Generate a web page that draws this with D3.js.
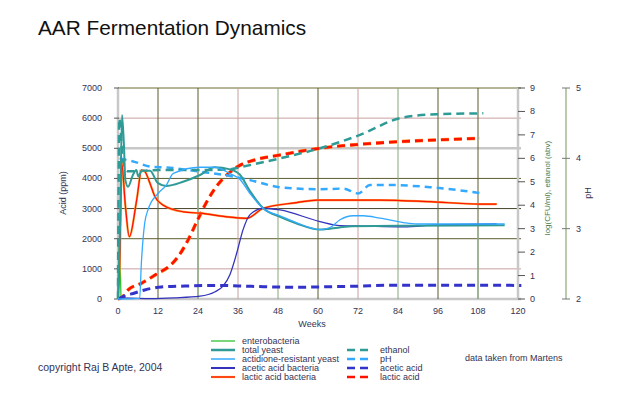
<!DOCTYPE html>
<html>
<head>
<meta charset="utf-8">
<script src="https://cdn.jsdelivr.net/npm/d3@7"></script>
<style>
  body { margin: 0; background: #fff; }
  svg { display: block; font-family: "Liberation Sans", Arial, sans-serif; }
  .tick-label { font-size: 9px; fill: #333355; }
</style>
</head>
<body>
<svg id="chart" width="630" height="395"></svg>
<script>
// weeks / value pairs
// solid lines: log(CFU/ml), right axis 0-9
var enterobacteria = [[0, 0], [0.4, 2.5], [0.9, 0]];
var total_yeast = [[0, 0], [0.6, 3], [1.2, 7.85], [1.8, 6.5], [2.2, 5.08], [3, 4.79], [4.5, 5.3], [5.5, 5.5],
    [6.1, 5.22], [7.1, 5.47], [9.6, 5.47], [12, 4.94], [14.5, 4.82], [19.5, 5.0], [24.6, 5.29], [29, 5.62],
    [33.6, 5.53], [36.6, 5.3], [39.6, 4.6], [43.6, 3.87], [48.6, 3.5], [53.6, 3.22], [60.6, 2.96],
    [63.6, 3.0], [70, 3.1], [85, 3.12], [116, 3.15]];
var actidione_yeast = [[0, 0], [6.5, 0.03], [7, 1.5], [8, 3.23], [9, 3.8], [12, 4.5], [14.5, 4.86], [16.6, 5.36],
    [24.6, 5.62], [29, 5.62], [33.6, 5.35], [36.6, 5.1], [39.6, 4.5], [43.6, 3.85], [48.6, 3.55],
    [53.6, 3.25], [60.6, 2.96], [63.6, 3.05], [66.6, 3.38], [70.5, 3.55], [73.6, 3.55], [78.6, 3.45],
    [85.6, 3.26], [89.6, 3.2], [116, 3.2]];
var acetic_bacteria = [[0, 0.05], [10, 0.02], [17, 0.05], [24.6, 0.12], [29, 0.3], [31.5, 0.55], [33.6, 1.05],
    [35.6, 1.95], [37.5, 2.95], [39.6, 3.6], [43.6, 3.87], [48.6, 3.8], [60.6, 3.3], [66.6, 3.13],
    [73.6, 3.11], [85.6, 3.08], [95.6, 3.16], [113.6, 3.2]];
var lactic_bacteria = [[0, 0], [0.6, 2], [1.1, 5.79], [2.2, 4.0], [3.4, 2.66], [5.6, 4.22], [7.1, 5.5],
    [8.1, 5.43], [9.6, 4.93], [11.1, 4.36], [13.6, 4.0], [19.6, 3.72], [24.6, 3.66], [33.6, 3.49],
    [38.6, 3.44], [43.6, 3.87], [53.6, 4.11], [59.6, 4.22], [78.6, 4.22], [93.6, 4.15], [108.6, 4.05],
    [113.6, 4.05]];
// dashed lines
var ethanol = [[0, 0], [0.4, 7.7], [1.6, 5.7], [3, 5.45], [14, 5.5], [24, 5.5], [33.6, 5.53], [36.6, 5.62],
    [48.6, 6.0], [60.6, 6.43], [72.6, 7.0], [84.6, 7.71], [95.6, 7.88], [109.6, 7.92]]; // % abv, right axis
var ph = [[0.5, 4.0], [5, 3.95], [10, 3.88], [14.6, 3.87], [24.6, 3.81], [33.6, 3.75], [39.6, 3.69],
    [48.6, 3.59], [60.6, 3.56], [67.6, 3.57], [72.1, 3.5], [75.6, 3.62], [81.6, 3.62], [93.6, 3.59],
    [109.6, 3.5]];
var acetic_acid = [[0, 0], [2, 100], [5, 200], [8, 300], [13, 400], [20, 430], [30, 450], [40, 420],
    [53.6, 390], [60, 400], [70, 420], [84.6, 460], [100, 460], [121, 450]]; // ppm
var lactic_acid = [[0, 0], [1.5, 80], [3, 299], [7, 520], [12, 853], [15, 1050], [18, 1400], [21, 1950],
    [24, 2650], [27, 3300], [30, 3800], [33, 4150], [36, 4400], [41, 4612], [48.6, 4778], [60.6, 5000],
    [72.6, 5133], [84.6, 5220], [95.6, 5276], [108.6, 5332]]; // ppm

var week_ticks = d3.range(0, 121, 12);
var acid_ticks = d3.range(0, 7001, 1000);
var log_ticks = d3.range(0, 10);
var ph_ticks = [2, 3, 4, 5];
var vgrid_colors = ["#c8c8c8", "#5c5c30", "#5c5c30", "#c9a0a0", "#88a878", "#5c5c30", "#c9a0a0",
    "#88a878", "#5c5c30", "#5c5c30", "#c8c8c8"];
var hgrid_colors = ["#c8c8c8", "#c9a0a0", "#5c5c30", "#44442a", "#5c5c30", "#c8c8c8", "#c9a0a0", "#6b6b35"];
var grid_accents = [[24, 4.5], [108, 2.95]]; // lighter green lower part of two grid lines (log units)

var svg = d3.select("#chart");
var x = d3.scaleLinear().domain([0, 120]).range([118, 518]);
var yAcid = d3.scaleLinear().domain([0, 7000]).range([299, 88]);
var yLog = d3.scaleLinear().domain([0, 9]).range([299, 88]);
var yPh = d3.scaleLinear().domain([2, 5]).range([299, 88]);

svg.append("text").attr("x", 38).attr("y", 35).attr("font-size", 20.8).attr("fill", "#111")
    .text("AAR Fermentation Dynamics");

// grid
var grid = svg.append("g");
grid.selectAll("line.h").data(acid_ticks).enter().append("line")
    .attr("x1", x(0)).attr("x2", 521)
    .attr("y1", d => yAcid(d)).attr("y2", d => yAcid(d))
    .attr("stroke", (d, i) => hgrid_colors[i])
    .attr("stroke-width", (d, i) => hgrid_colors[i] == "#c8c8c8" ? 2.5 : 1);
grid.selectAll("line.v").data(week_ticks).enter().append("line")
    .attr("x1", d => x(d)).attr("x2", d => x(d))
    .attr("y1", yAcid(7000)).attr("y2", yAcid(0))
    .attr("stroke", (d, i) => vgrid_colors[i])
    .attr("stroke-width", (d, i) => vgrid_colors[i] == "#c8c8c8" ? 2.5 : 1);
grid.selectAll("line.acc").data(grid_accents).enter().append("line")
    .attr("x1", d => x(d[0])).attr("x2", d => x(d[0]))
    .attr("y1", d => yLog(d[1])).attr("y2", yLog(0))
    .attr("stroke", "#9ab89a").attr("stroke-width", 1.3);

// left axis
var left = svg.append("g");
left.selectAll("line").data(acid_ticks).enter().append("line")
    .attr("x1", 114).attr("x2", 119).attr("y1", d => yAcid(d)).attr("y2", d => yAcid(d))
    .attr("stroke", "#555");
left.selectAll("text").data(acid_ticks).enter().append("text").attr("class", "tick-label")
    .attr("x", 102).attr("y", d => yAcid(d) + 3).attr("text-anchor", "end").text(d => d);
svg.append("text").attr("class", "tick-label").attr("font-size", 8)
    .attr("transform", "translate(66," + 193 + ") rotate(-90)").attr("text-anchor", "middle")
    .text("Acid (ppm)");

// bottom axis
svg.append("g").selectAll("text").data(week_ticks).enter().append("text").attr("class", "tick-label")
    .attr("x", d => x(d)).attr("y", 314).attr("text-anchor", "middle").text(d => d);
svg.append("text").attr("class", "tick-label").attr("x", 312).attr("y", 327)
    .attr("text-anchor", "middle").text("Weeks");

// right axis: log counts / ethanol
var right = svg.append("g");
right.selectAll("line").data(log_ticks).enter().append("line")
    .attr("x1", 518).attr("x2", 525).attr("y1", d => yLog(d)).attr("y2", d => yLog(d))
    .attr("stroke", "#555");
right.selectAll("text").data(log_ticks).enter().append("text").attr("class", "tick-label")
    .attr("x", 530).attr("y", d => yLog(d) + 3).text(d => d);
svg.append("text").attr("font-size", 8).attr("fill", "#4a7a4a")
    .attr("transform", "translate(550," + 188 + ") rotate(-90)").attr("text-anchor", "middle")
    .text("log(CFU/ml), ethanol (abv)");

// pH axis
var phAxis = svg.append("g");
phAxis.append("line").attr("x1", 566).attr("x2", 566).attr("y1", yPh(5)).attr("y2", yPh(2))
    .attr("stroke", "#88a878").attr("stroke-width", 1.2);
phAxis.selectAll("line.t").data(ph_ticks).enter().append("line")
    .attr("x1", 562).attr("x2", 570).attr("y1", d => yPh(d)).attr("y2", d => yPh(d))
    .attr("stroke", "#777");
phAxis.selectAll("text").data(ph_ticks).enter().append("text").attr("class", "tick-label")
    .attr("x", 576).attr("y", d => yPh(d) + 3).text(d => d);
svg.append("text").attr("class", "tick-label").attr("font-size", 8)
    .attr("transform", "translate(591," + 193 + ") rotate(-90)").attr("text-anchor", "middle")
    .text("pH");

// series
var series = [
    {name: "enterobacteria", data: enterobacteria, y: yLog, color: "#22bb22", width: 1.2, dash: null},
    {name: "lactic acid (ppm)", data: lactic_acid, y: yAcid, color: "#ff1100", width: 2.6, dash: "8,5", edge: "#ff9933"},
    {name: "acetic acid (ppm)", data: acetic_acid, y: yAcid, color: "#3333cc", width: 3, dash: "8,5"},
    {name: "pH", data: ph, y: yPh, color: "#33aaff", width: 2.5, dash: "7,5"},
    {name: "ethanol", data: ethanol, y: yLog, color: "#2f9a96", width: 2.5, dash: "8,5"},
    {name: "lactic acid bacteria", data: lactic_bacteria, y: yLog, color: "#ff1100", width: 1.2, dash: null, edge: "#ff9933"},
    {name: "acetic acid bacteria", data: acetic_bacteria, y: yLog, color: "#3333bb", width: 1.3, dash: null},
    {name: "total yeast", data: total_yeast, y: yLog, color: "#2f9a96", width: 2, dash: null},
    {name: "actidione-resistant yeast", data: actidione_yeast, y: yLog, color: "#33aaff", width: 1.3, dash: null}
];

var lines = svg.append("g").attr("fill", "none");
series.forEach(function(s) {
    var line = d3.line().x(d => x(d[0])).y(d => s.y(d[1])).curve(d3.curveMonotoneX);
    if (s.edge) {
        lines.append("path").attr("d", line(s.data)).attr("stroke", s.edge)
            .attr("stroke-width", s.width + 1).attr("stroke-dasharray", s.dash);
    }
    lines.append("path").attr("d", line(s.data)).attr("stroke", s.color)
        .attr("stroke-width", s.width).attr("stroke-dasharray", s.dash);
});

// legend
var legend_left = [
    {label: "enterobacteria", color: "#22bb22", width: 1.2},
    {label: "total yeast", color: "#2f9a96", width: 2.5},
    {label: "actidione-resistant yeast", color: "#33aaff", width: 1.5},
    {label: "acetic acid bacteria", color: "#3333bb", width: 2},
    {label: "lactic acid bacteria", color: "#ff1100", width: 1.2, edge: "#ff9933"}
];
var legend_right = [
    {label: "ethanol", color: "#2f9a96", width: 2.5},
    {label: "pH", color: "#33aaff", width: 2.5},
    {label: "acetic acid", color: "#3333cc", width: 2.5},
    {label: "lactic acid", color: "#ff1100", width: 2.5}
];
function draw_legend(items, x0, y0, len, dash) {
    var g = svg.append("g");
    items.forEach(function(it, i) {
        var yy = y0 + i * 9;
        if (it.edge) {
            g.append("line").attr("x1", x0).attr("x2", x0 + len).attr("y1", yy).attr("y2", yy)
                .attr("stroke", it.edge).attr("stroke-width", it.width + 1);
        }
        g.append("line").attr("x1", x0).attr("x2", x0 + len).attr("y1", yy).attr("y2", yy)
            .attr("stroke", it.color).attr("stroke-width", it.width).attr("stroke-dasharray", dash);
        g.append("text").attr("class", "tick-label").attr("font-size", 8.5)
            .attr("x", x0 + len + 7).attr("y", yy + 3).text(it.label);
    });
}
draw_legend(legend_left, 211, 341, 24, null);
draw_legend(legend_right, 347, 350, 26, "8,5");

svg.append("text").attr("class", "tick-label").attr("font-size", 8.5).attr("x", 465).attr("y", 361)
    .text("data taken from Martens");
svg.append("text").attr("font-size", 10.5).attr("fill", "#333355").attr("x", 38).attr("y", 371)
    .text("copyright Raj B Apte, 2004");
</script>
</body>
</html>
